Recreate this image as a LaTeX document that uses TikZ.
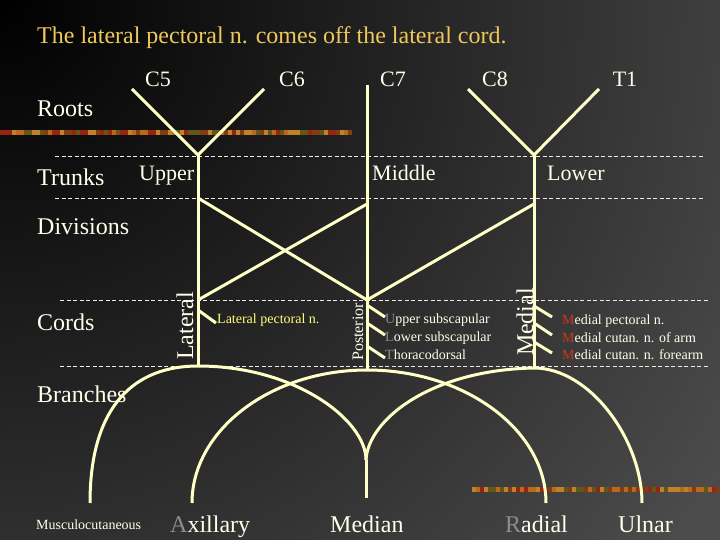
\documentclass[tikz,border=0pt]{standalone}
\usepackage{fontspec}
\setmainfont{Liberation Serif}
\usetikzlibrary{calc}
\usepackage{xcolor}

\definecolor{bggray}{RGB}{75,75,75}
\definecolor{nervecream}{RGB}{255,255,200}
\definecolor{dashwhite}{RGB}{235,235,235}
\definecolor{titlegold}{RGB}{238,200,90}
\definecolor{labelwhite}{RGB}{255,255,235}
\definecolor{latpecyellow}{RGB}{255,255,120}
\definecolor{initgray}{RGB}{140,140,140}
\definecolor{initred}{RGB}{205,55,30}
\definecolor{barA}{RGB}{185,105,25}
\definecolor{barB}{RGB}{130,60,20}
\definecolor{barC}{RGB}{150,35,20}
\definecolor{barD}{RGB}{100,85,25}
\definecolor{barE}{RGB}{190,130,40}

\tikzset{
  nerve/.style={draw=nervecream, line width=3pt},
  levelline/.style={draw=dashwhite, line width=0.9pt, dash pattern=on 4pt off 2.5pt},
  biglabel/.style={text=labelwhite, font=\fontsize{24}{28}\selectfont, inner sep=0pt},
  midlabel/.style={text=labelwhite, font=\fontsize{22}{26}\selectfont, inner sep=0pt},
  smalllabel/.style={text=labelwhite, font=\fontsize{14}{16}\selectfont, inner sep=0pt, anchor=base west},
}
\newcommand{\gr}[1]{\textcolor{initgray}{#1}}
\newcommand{\rd}[1]{\textcolor{initred}{#1}}

\begin{document}
\begin{tikzpicture}[x=1pt, y=-1pt]
\useasboundingbox (0,0) rectangle (720,540);
% background
\fill[bggray] (0,0) rectangle (720,540);
\begin{scope}
\clip (0,0) rectangle (720,540);
\shade[inner color=black, outer color=bggray] (0,0) circle (860);
\end{scope}

% decorative bars
\pgfmathsetseed{7}
\pgfmathdeclarerandomlist{barcols}{{barA}{barB}{barC}{barD}{barE}}
\foreach \s in {0,4,...,350} {
  \pgfmathrandomitem{\c}{barcols}
  \fill[\c] (\s,130) rectangle ++(4,5);
}
\foreach \s in {472,476,...,716} {
  \pgfmathrandomitem{\c}{barcols}
  \fill[\c] (\s,487) rectangle ++(4,5);
}

% level lines
\foreach \y/\a/\b in {156/55/703, 198/55/703, 300/60/708, 366/60/708}
  \draw[levelline] (\a,\y) -- (\b,\y);

\node[anchor=base west, text=titlegold, font=\fontsize{24}{28}\selectfont, inner sep=0pt] (title) at (37,44)
  {The lateral pectoral n. comes off the lateral cord.};

% level names
\node[biglabel, anchor=base west] (roots) at (37,117) {Roots};
\node[biglabel, anchor=base west] (trunks) at (37,186) {Trunks};
\node[biglabel, anchor=base west] (divisions) at (37,234) {Divisions};
\node[biglabel, anchor=base west] (cords) at (37,330) {Cords};
\node[biglabel, anchor=base west] (branches) at (37,402) {Branches};

% roots
\coordinate (C5) at (132,89);
\coordinate (C6) at (264,89);
\coordinate (C7) at (367,85);
\coordinate (C8) at (468,89);
\coordinate (T1) at (599,89);
\foreach \r/\x in {C5/158, C6/292, C7/393, C8/495, T1/625}
  \node[midlabel] (lab\r) at (\x,79) {\r};

% trunks and divisions
\coordinate (upper) at (198,155);
\coordinate (lower) at (534,155);
\coordinate (upperdiv) at (198,198);
\coordinate (middiv) at (367,204);
\coordinate (lowerdiv) at (534,204);
\coordinate (latcord) at (198,300);
\coordinate (postcord) at (367,300);
\coordinate (medcord) at (534,300);
\coordinate (latpeak) at (198,366);
\coordinate (postpeak) at (367,370);
\coordinate (medpeak) at (534,368);

\node[midlabel, anchor=base west] (upperlab) at (139,181) {Upper};
\node[midlabel, anchor=base west] (middlelab) at (372,181) {Middle};
\node[midlabel, anchor=base west] (lowerlab) at (547,181) {Lower};

\draw[nerve] (C5) -- (upper) -- (C6);
\draw[nerve] (C8) -- (lower) -- (T1);
\draw[nerve] (upper) -- (latpeak);
\draw[nerve] (C7) -- (postpeak);
\draw[nerve] (lower) -- (medpeak);
\draw[nerve] (upperdiv) -- (postcord);
\draw[nerve] (middiv) -- (latcord);
\draw[nerve] (lowerdiv) -- (postcord);

% cords
\node[biglabel, rotate=90] (lateral) at (185,326) {Lateral};
\node[text=labelwhite, font=\fontsize{16}{18}\selectfont, inner sep=0pt, rotate=90] (posterior) at (358,332) {Posterior};
\node[biglabel, rotate=90] (medial) at (525,322) {Medial};

% side branches of the cords
\coordinate (lp0) at (198,310);
\coordinate (lp1) at (216,323);
\draw[nerve] (lp0) -- (lp1);
\node[smalllabel, text=latpecyellow] (latpec) at (217,323) {Lateral pectoral n.};

\foreach \i/\ya/\yb in {1/305/317, 2/323/335, 3/346/358} {
  \coordinate (ps\i) at (367,\ya);
  \coordinate (pe\i) at (385,\yb);
  \draw[nerve] (ps\i) -- (pe\i);
}
\node[smalllabel] (upsub) at (385,323) {\gr{U}pper subscapular};
\node[smalllabel] (lowsub) at (385,341) {\gr{L}ower subscapular};
\node[smalllabel] (thorac) at (385,359) {\gr{T}horacodorsal};

\foreach \i/\ya/\yb in {1/306/317, 2/323/335, 3/342/353} {
  \coordinate (ms\i) at (534,\ya);
  \coordinate (me\i) at (552,\yb);
  \draw[nerve] (ms\i) -- (me\i);
}
\node[smalllabel] (medpec) at (562,324) {\rd{M}edial pectoral n.};
\node[smalllabel] (medarm) at (562,342) {\rd{M}edial cutan. n. of arm};
\node[smalllabel] (medfore) at (562,359) {\rd{M}edial cutan. n. forearm};

% terminal branches
\coordinate (musc) at (90,503);
\coordinate (axil) at (192,503);
\coordinate (medfork) at (366,460);
\coordinate (medend) at (366,498);
\coordinate (radend) at (546,503);
\coordinate (ulnend) at (642,503);

\draw[nerve] (musc) .. controls (90,405) and (135,366) .. (latpeak)
  .. controls (295,366) and (366,420) .. (medfork);
\draw[nerve] (axil) .. controls (192,430) and (271,370) .. (postpeak)
  .. controls (465,370) and (546,430) .. (radend);
\draw[nerve] (medfork) .. controls (368,420) and (430,370) .. (medpeak)
  .. controls (590,368) and (642,440) .. (ulnend);
\draw[nerve] (medfork) -- (medend);

\node[smalllabel] (musclab) at (36,529) {Musculocutaneous};
\node[biglabel, anchor=base west] (axillab) at (170,532) {\gr{A}xillary};
\node[biglabel, anchor=base west] (medianlab) at (330,532) {Median};
\node[biglabel, anchor=base west] (radiallab) at (505,532) {\gr{R}adial};
\node[biglabel, anchor=base west] (ulnarlab) at (618,532) {Ulnar};
\end{tikzpicture}
\end{document}
